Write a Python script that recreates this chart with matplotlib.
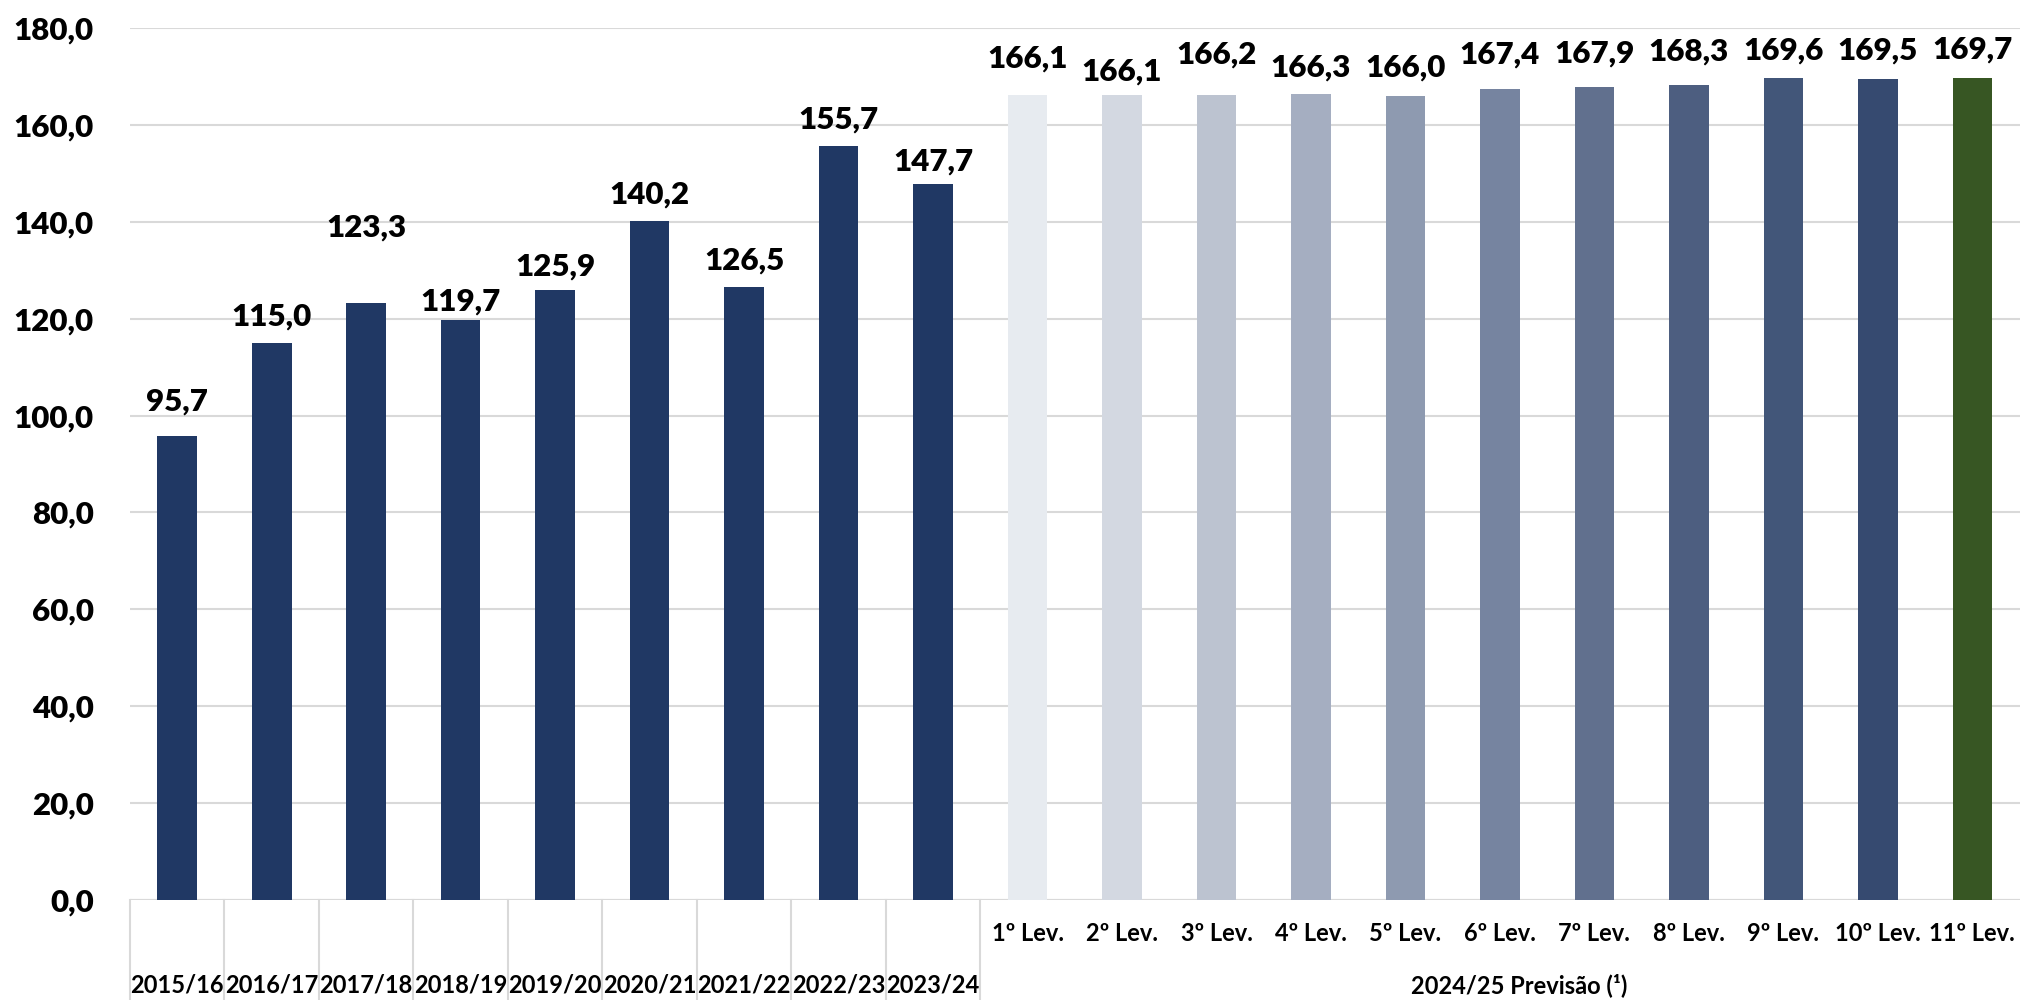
import matplotlib
matplotlib.use("Agg")
import matplotlib.pyplot as plt
import numpy as np

# data
years = ["2015/16", "2016/17", "2017/18", "2018/19", "2019/20",
         "2020/21", "2021/22", "2022/23", "2023/24"]
year_values = [95.7, 115.0, 123.3, 119.7, 125.9, 140.2, 126.5, 155.7, 147.7]
levels = ["1º Lev.", "2º Lev.", "3º Lev.", "4º Lev.", "5º Lev.", "6º Lev.",
          "7º Lev.", "8º Lev.", "9º Lev.", "10º Lev.", "11º Lev."]
level_values = [166.1, 166.1, 166.2, 166.3, 166.0, 167.4, 167.9, 168.3,
                169.6, 169.5, 169.7]
group_label = "2024/25 Previsão (¹)"

# styling
hist_color = "#203864"
level_colors = ["#E7EBF0", "#D3D8E1", "#BCC3D0", "#A5AEC1", "#8E9AB0",
                "#7684A0", "#61708E", "#4D5E80", "#425679", "#364A70",
                "#375623"]
label_lift = [35, 26, 75, 19, 24, 26, 27, 26, 23,
              37, 24, 40, 27, 28, 35, 33, 33, 28, 28, 28]
grid_color = "#D9D9D9"
font = "Lato"


def main():
    values = year_values + level_values
    colors = [hist_color] * len(year_values) + level_colors
    x = np.arange(len(values))

    fig = plt.figure(figsize=(20.21, 10), dpi=100)
    ax = fig.add_axes([0.0643, 0.1, 0.935, 0.872])
    ax.bar(x, values, width=0.42, color=colors, zorder=3)

    for xi, v, lift in zip(x, values, label_lift):
        ax.annotate(f"{v:.1f}".replace(".", ","), (xi, v),
                    xytext=(0, lift), textcoords="offset pixels",
                    ha="center", va="center", fontsize=22.5,
                    fontweight="heavy", family=font, zorder=4)

    ax.set_xlim(-0.5, len(values) - 0.5)
    ax.set_ylim(0, 180)
    ax.set_yticks(np.arange(0, 181, 20))
    ax.set_yticklabels([f"{t:.1f}".replace(".", ",") for t in range(0, 181, 20)],
                       fontsize=22.5, fontweight="heavy", family=font)
    ax.tick_params(axis="y", length=0, pad=26)
    ax.set_xticks([])
    ax.grid(axis="y", color=grid_color, linewidth=1.5, zorder=0)
    for s in ax.spines.values():
        s.set_visible(False)
    ax.axhline(0, color=grid_color, linewidth=1.5, zorder=2)

    # multi-level category axis
    depth = 100 / 872
    trans = ax.get_xaxis_transform()
    for i in range(len(years) + 1):
        ax.plot([i - 0.5, i - 0.5], [0, -depth], color=grid_color,
                linewidth=1.5, transform=trans, clip_on=False)
    for i, name in enumerate(years):
        ax.text(i, -0.098, name, transform=trans, ha="center", va="center",
                fontsize=17, fontweight="bold", family=font)
    start = len(years)
    for j, name in enumerate(levels):
        ax.text(start + j, -0.038, name, transform=trans, ha="center",
                va="center", fontsize=17, fontweight="bold", family=font)
    ax.text(start + (len(levels) - 1) / 2 + 0.2, -0.098, group_label,
            transform=trans, ha="center", va="center", fontsize=17,
            fontweight="bold", family=font)

    fig.savefig("out.png", dpi=100)


if __name__ == "__main__":
    main()
